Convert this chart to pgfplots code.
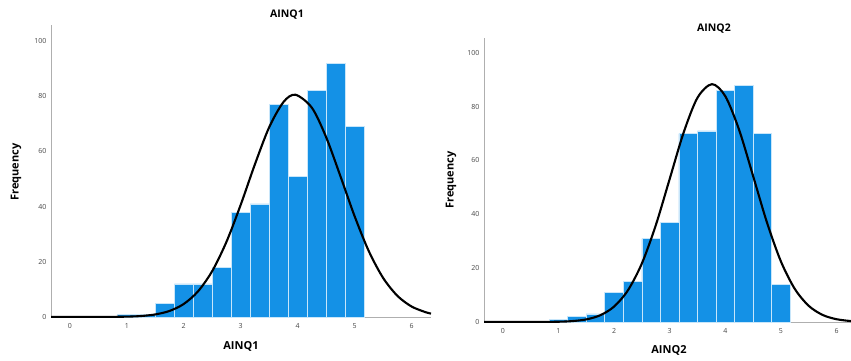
\documentclass[border=0pt]{standalone}
\usepackage{pgfplots}
\pgfplotsset{compat=1.18}
\usepackage{fontspec}
\setmainfont{Open Sans}
\definecolor{barblue}{RGB}{20,145,230}
\definecolor{baredge}{RGB}{200,230,250}
\definecolor{axgray}{RGB}{175,175,175}
\definecolor{ticktext}{RGB}{70,70,70}
\pgfplotsset{myhist/.style={
  scale only axis, anchor=south west,
  axis x line*=bottom, axis y line*=left,
  axis line style={axgray, line width=1pt},
  ymin=0, xtick={0,1,2,3,4,5,6}, ytick={0,20,40,60,80,100},
  major tick length=0pt,
  tick label style={font=\fontsize{7}{8}\selectfont, text=ticktext},
  /pgf/number format/assume math mode=true,
  xticklabel style={yshift=-2.5pt},
  yticklabel style={xshift=-1pt},
}}
\begin{document}
\begin{tikzpicture}
\path[use as bounding box] (0pt,0pt) rectangle (851pt,360pt);
\begin{axis}[myhist, at={(51pt,43pt)}, width=380pt, height=292pt, xmin=-0.33, xmax=6.34, ymax=105.8]
\addplot[ybar, bar width=0.3333, bar shift=0pt, fill=barblue, draw=baredge, line width=0.6pt] coordinates {
(1,1) (1.3333,1) (1.6667,5) (2,12) (2.3333,12) (2.6667,18) (3,38) (3.3333,41) (3.6667,77) (4,51) (4.3333,82) (4.6667,92) (5,69)};
\addplot[black, line width=2.1pt, smooth] coordinates {
(-0.33,0) (0,0) (0.5,0.01) (1,0.13) (1.25,0.36) (1.5,0.93) (1.75,2.19) (2,4.72) (2.25,9.28) (2.5,16.65) (2.75,27.25) (3,40.67) (3.25,55.38) (3.5,68.77) (3.75,77.88) (3.96,80.53) (4.25,75.79) (4.5,65.12) (4.75,51.03) (5,36.48) (5.25,23.78) (5.5,14.14) (5.75,7.67) (6,3.79) (6.25,1.71) (6.34,1.26)};
\end{axis}
\begin{axis}[myhist, at={(484pt,38pt)}, width=367pt, height=284pt, xmin=-0.337, xmax=6.26, ymax=105.5]
\addplot[ybar, bar width=0.3333, bar shift=0pt, fill=barblue, draw=baredge, line width=0.6pt] coordinates {
(1,1) (1.3333,2) (1.6667,3) (2,11) (2.3333,15) (2.6667,31) (3,37) (3.3333,70) (3.6667,71) (4,86) (4.3333,88) (4.6667,70) (5,14)};
\addplot[black, line width=2.1pt, smooth] coordinates {
(-0.337,0) (0,0) (0.5,0.01) (1,0.10) (1.25,0.34) (1.5,0.96) (1.75,2.48) (2,5.71) (2.25,11.77) (2.5,21.72) (2.75,35.89) (3,53.1) (3.25,70.29) (3.5,83.3) (3.76,88.36) (4,83.89) (4.25,71.3) (4.5,54.24) (4.75,36.93) (5,22.5) (5.25,12.28) (5.5,6.0) (5.75,2.62) (6,1.03) (6.26,0.34)};
\end{axis}
\node[font=\fontsize{10.5}{12}\selectfont\bfseries] at (287pt,345pt) {AINQ1};
\node[font=\fontsize{10.5}{12}\selectfont\bfseries] at (714pt,331pt) {AINQ2};
\node[font=\fontsize{11}{12}\selectfont\bfseries] at (241pt,14pt) {AINQ1};
\node[font=\fontsize{11}{12}\selectfont\bfseries] at (669pt,10pt) {AINQ2};
\node[font=\fontsize{11}{12}\selectfont\bfseries, rotate=90] at (16pt,188pt) {Frequency};
\node[font=\fontsize{11}{12}\selectfont\bfseries, rotate=90] at (451pt,180pt) {Frequency};
\end{tikzpicture}
\end{document}
